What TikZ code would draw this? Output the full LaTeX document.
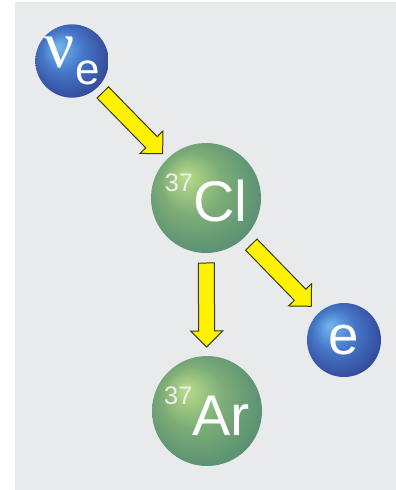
\documentclass[tikz,border=0pt]{standalone}
\usepackage{fontspec}
\setmainfont{Liberation Sans}
\newfontfamily\nufont{Liberation Serif}
\usepackage{xcolor}
\usetikzlibrary{calc}
\definecolor{kbg}{HTML}{E9EAEC}
\definecolor{kyellow}{HTML}{FFF200}
\definecolor{kedge}{HTML}{3C3A14}
\definecolor{kbluehi}{HTML}{72B8EE}
\definecolor{kbluemid}{HTML}{4677C8}
\definecolor{kbluelo}{HTML}{2E3A8A}
\definecolor{kgreenhi}{HTML}{BADC8A}
\definecolor{kgreenmid}{HTML}{7DAD77}
\definecolor{kgreenlo}{HTML}{4C8671}
\definecolor{kiso}{HTML}{EEEEEE}

\pgfdeclareradialshading{blueball}{\pgfpoint{-10bp}{10bp}}{%
  color(0bp)=(kbluehi); color(14bp)=(kbluemid); color(34bp)=(kbluelo); color(40bp)=(kbluelo)}
\pgfdeclareradialshading{greenball}{\pgfpoint{-10bp}{10bp}}{%
  color(0bp)=(kgreenhi); color(14bp)=(kgreenmid); color(34bp)=(kgreenlo); color(40bp)=(kgreenlo)}

\tikzset{
  ball/.style={circle, inner sep=0pt, text=white},
  yarrow/.style={fill=kyellow, draw=kedge, line width=0.75pt, line join=miter},
}

%% yellow block arrow: source, target, gap at source, gap at target
\newcommand{\yarrow}[4]{%
  \path ($(#1)!#3!(#2)$) coordinate (tail) ($(#2)!#4!(#1)$) coordinate (tip);
  \path ($(tip)!12pt!(tail)$) coordinate (neck);
  \filldraw[yarrow] ($(tail)!6pt!90:(tip)$) -- ($(neck)!6pt!90:(tip)$)
    -- ($(neck)!12pt!90:(tip)$) -- (tip) -- ($(neck)!12pt!-90:(tip)$)
    -- ($(neck)!6pt!-90:(tip)$) -- ($(tail)!6pt!-90:(tip)$) -- cycle;
}

\newcommand{\iso}[1]{{\fontsize{19}{19}\selectfont\color{kiso}\raisebox{23pt}{#1}}}

\begin{document}
\begin{tikzpicture}[x=0.75pt, y=-0.75pt]

  %% Background
  \useasboundingbox (0,0) rectangle (396,490);
  \fill[white] (0,0) rectangle (396,490);
  \fill[kbg] (15,2) rectangle (396,490);

  %% Particles
  \node[ball, shading=blueball, minimum size=54pt] (nu) at (72,61)
    {{\nufont\fontsize{50}{50}\selectfont ν}\kern0.5pt\raisebox{-13pt}{\fontsize{33}{33}\selectfont e}};
  \node[ball, shading=greenball, minimum size=82.5pt, font=\fontsize{43}{43}\selectfont] (cl) at (206,198)
    {\iso{37}Cl};
  \node[ball, shading=greenball, minimum size=82.5pt, font=\fontsize{43}{43}\selectfont] (ar) at (207,411)
    {\iso{37}Ar};
  \node[ball, shading=blueball, minimum size=55.5pt, font=\fontsize{41}{41}\selectfont] (el) at (344,340)
    {e};

  %% Arrows
  \yarrow{nu}{cl}{33pt}{46.5pt}
  \yarrow{cl}{ar}{48.75pt}{48pt}
  \yarrow{cl}{el}{48.75pt}{35.25pt}

\end{tikzpicture}
\end{document}
